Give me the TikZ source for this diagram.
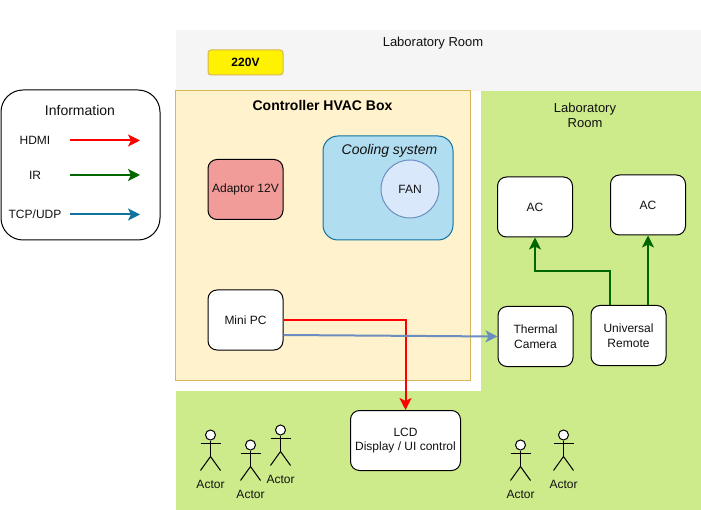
\documentclass[tikz,border=0pt]{standalone}
\usepackage{fontspec}
\setmainfont{Liberation Sans}
\usetikzlibrary{arrows.meta,calc}
\definecolor{greyzone}{HTML}{F5F5F5}
\definecolor{greenzone}{HTML}{CDEB8B}
\definecolor{boxfill}{HTML}{FFF2CC}
\definecolor{boxline}{HTML}{D6B656}
\definecolor{coolfill}{HTML}{B1DDF0}
\definecolor{coolline}{HTML}{10739E}
\definecolor{fanfill}{HTML}{DAE8FC}
\definecolor{fanline}{HTML}{6C8EBF}
\definecolor{adaptfill}{HTML}{F19C99}
\definecolor{textgrey}{HTML}{111111}
\definecolor{irgreen}{HTML}{006600}
\tikzset{
  txt/.style={font=\fontsize{12}{14.5}\selectfont,text=textgrey,align=center,inner sep=0pt},
  bigtxt/.style={txt,font=\fontsize{13}{14.5}\selectfont},
  zone/.style={rectangle,draw=none,inner sep=0pt},
  devbox/.style={txt,rectangle,rounded corners=9pt,draw=black,line width=1pt,fill=white,
    minimum width=75pt,minimum height=60pt},
  link/.style={line width=2pt,-{Stealth[length=12pt,width=12pt,inset=3pt]}},
  hdmi/.style={link,draw=red},
  ir/.style={link,draw=irgreen},
  tcp/.style={link,draw=coolline},
  cam/.style={link,draw=fanline},
  limb/.style={draw=black,line width=1pt},
  actorlabel/.style={txt}
}
\newcommand{\stickman}[5]{% name, x, head y, label name, label
  \node[circle,draw=black,fill=white,line width=1pt,minimum size=10pt,inner sep=0pt] (#1) at (#2,#3) {};
  \coordinate (#1w) at ($(#1.south)+(0,16)$);
  \coordinate (#1h) at ($(#1.south)+(0,3)$);
  \draw[limb] (#1.south) -- (#1w);
  \draw[limb] ($(#1h)+(-10,0)$) -- ($(#1h)+(10,0)$);
  \draw[limb] ($(#1w)+(-10,14)$) -- (#1w) -- ($(#1w)+(10,14)$);
  \node[actorlabel] (#4) at (#2,#3+49) {#5};
}
\begin{document}
\begin{tikzpicture}[x=1pt,y=-1pt]
\path[use as bounding box] (0,0) rectangle (701,510);
% zones
\node[zone,fill=greyzone,minimum width=525pt,minimum height=61pt] (lab) at (438.5,60.5) {};
\node[zone,fill=greenzone,minimum width=220pt,minimum height=300pt] (labr) at (591,241) {};
\node[zone,fill=white,minimum width=305pt,minimum height=300pt] (gap) at (328.5,241) {};
\node[zone,fill=greenzone,minimum width=525pt,minimum height=119pt] (floor) at (438.5,450.5) {};
\node[rectangle,draw=boxline,fill=boxfill,line width=1pt,minimum width=295pt,minimum height=290pt,inner sep=0pt] (hvac) at (323,235.2) {};
% titles
\node[bigtxt] (labt) at (433,43.5) {Laboratory Room};
\node[txt,font=\fontsize{14}{16}\selectfont\bfseries,text=black] (hvact) at (322.5,105.5) {Controller HVAC Box};
\node[bigtxt] (labrt) at (585,115.5) {Laboratory\\Room};
% power
\node[devbox,draw=boxline,fill=yellow,text=black,font=\fontsize{12}{15}\selectfont\bfseries,minimum height=25pt,rounded corners=3pt] (v220) at (245.5,62.5) {220V};
\node[devbox,fill=adaptfill] (adaptor) at (245.5,189.5) {Adaptor 12V};
% cooling
\node[rectangle,rounded corners=15pt,draw=coolline,fill=coolfill,line width=1pt,minimum width=130pt,minimum height=104pt] (cool) at (388,188) {};
\node[txt,font=\fontsize{14}{16}\selectfont\itshape] (coolt) at (389.5,150.5) {Cooling system};
\node[circle,draw=fanline,fill=fanfill,line width=1pt,minimum size=58pt,inner sep=0pt,txt] (fan) at (410,189) {FAN};
% devices
\node[devbox] (mini) at (245.5,320) {Mini PC};
\node[devbox,minimum width=110pt] (lcd) at (405.5,440.5) {LCD\\Display / UI control};
\node[devbox] (ac1) at (535,207) {AC};
\node[devbox] (ac2) at (648,205) {AC};
\node[devbox] (thermal) at (535.5,336.5) {Thermal\\Camera};
\node[devbox] (remote) at (628.5,335.5) {Universal\\Remote};
% connectors
\draw[hdmi] (mini.east) -| (lcd.north);
\draw[cam] ([yshift=-15pt]mini.east) -- (thermal.west);
\draw[ir] ([xshift=-18.5pt]remote.north) -- ++(0,-34) -| (ac1.south);
\draw[ir] ([xshift=19.5pt]remote.north) -- (ac2.south);
% legend
\node[rectangle,rounded corners=22pt,draw=black,fill=white,line width=1pt,minimum width=159pt,minimum height=150pt] (info) at (80.5,165) {};
\node[txt,font=\fontsize{14}{16}\selectfont] (infot) at (80,110.5) {Information};
\node[txt] (lh) at (35,140) {HDMI};
\node[txt] (li) at (35,175) {IR};
\node[txt] (lt) at (35,214.5) {TCP/UDP};
\coordinate (h1) at (70,140.5); \coordinate (h2) at (140,140.5);
\coordinate (i1) at (70,175); \coordinate (i2) at (140,175);
\coordinate (t1) at (70,214.5); \coordinate (t2) at (140,214.5);
\draw[hdmi] (h1) -- (h2);
\draw[ir] (i1) -- (i2);
\draw[tcp] (t1) -- (t2);
% actors
\stickman{a1}{210.5}{435}{a1t}{Actor}
\stickman{a2}{250.5}{445}{a2t}{Actor}
\stickman{a3}{280.5}{430}{a3t}{Actor}
\stickman{a4}{520.5}{445}{a4t}{Actor}
\stickman{a5}{563.5}{435}{a5t}{Actor}
\end{tikzpicture}
\end{document}
